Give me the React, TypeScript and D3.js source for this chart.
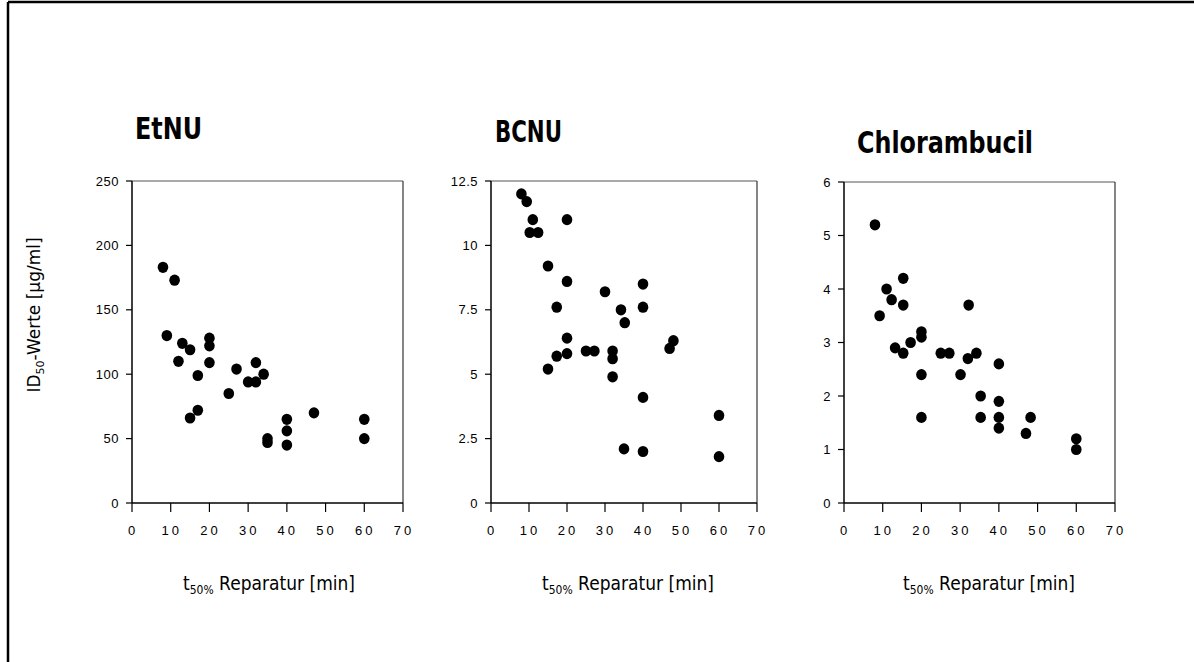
import React from "react";
import * as d3 from "d3";

// ---- data ----
const titles = ["EtNU", "BCNU", "Chlorambucil"];

const xTicks = [0, 10, 20, 30, 40, 50, 60, 70];

const etnuTicks = [0, 50, 100, 150, 200, 250];
const bcnuTicks = [0, 2.5, 5, 7.5, 10, 12.5];
const chloTicks = [0, 1, 2, 3, 4, 5, 6];

const etnuPoints: [number, number][] = [
  [8, 183], [11, 173], [9, 130], [13, 124], [15, 119], [12, 110],
  [20, 128], [20, 122], [20, 109], [17, 99], [15, 66], [17, 72],
  [25, 85], [27, 104], [30, 94], [32, 94], [32, 109], [34, 100],
  [35, 50], [35, 47], [40, 65], [40, 56], [40, 45], [47, 70],
  [60, 65], [60, 50],
];

const bcnuPoints: [number, number][] = [
  [8, 12], [9.4, 11.7], [11, 11], [10.2, 10.5], [12.4, 10.5], [20, 11],
  [15, 9.2], [20, 8.6], [17.3, 7.6], [20, 6.4], [20, 5.8], [17.3, 5.7],
  [15, 5.2], [25, 5.9], [27.2, 5.9], [30, 8.2], [32, 5.9], [32, 5.6],
  [32, 4.9], [34.2, 7.5], [35.2, 7.0], [35, 2.1], [40, 8.5], [40, 7.6],
  [40, 4.1], [40, 2.0], [47, 6.0], [48, 6.3], [60, 3.4], [60, 1.8],
];

const chloPoints: [number, number][] = [
  [8, 5.2], [9.2, 3.5], [11, 4.0], [12.3, 3.8], [15.3, 4.2], [15.3, 3.7],
  [13.2, 2.9], [15.3, 2.8], [17.2, 3.0], [20, 3.2], [20, 3.1], [20, 2.4],
  [20, 1.6], [25, 2.8], [27.2, 2.8], [30.1, 2.4], [32.2, 3.7], [32, 2.7],
  [34.2, 2.8], [35.3, 2.0], [35.3, 1.6], [40, 2.6], [40, 1.9], [40, 1.6],
  [40, 1.4], [47, 1.3], [48.2, 1.6], [60, 1.2], [60, 1.0],
];

const yMax = [250, 12.5, 6];
const yTickSets = [etnuTicks, bcnuTicks, chloTicks];
const pointSets = [etnuPoints, bcnuPoints, chloPoints];

// ---- layout ----
const W = 1194;
const H = 662;
const boxes = [
  { left: 132, right: 403, top: 181, bottom: 503, titleX: 135, titleY: 139, titleW: 67, labelX: 269 },
  { left: 491, right: 757, top: 181, bottom: 503, titleX: 495, titleY: 142, titleW: 67, labelX: 628 },
  { left: 844, right: 1115, top: 182, bottom: 503, titleX: 857, titleY: 153, titleW: 176, labelX: 989 },
];

function fmt(v: number) {
  return String(v);
}

function Panel({ i }: { i: number }) {
  const b = boxes[i];
  const x = d3.scaleLinear().domain([0, 70]).range([b.left, b.right]);
  const y = d3.scaleLinear().domain([0, yMax[i]]).range([b.bottom, b.top]);
  const pts = pointSets[i];
  return (
    <g>
      <text
        x={b.titleX}
        y={b.titleY}
        fontFamily="DejaVu Sans"
        fontWeight="bold"
        fontSize={30}
        textLength={b.titleW}
        lengthAdjust="spacingAndGlyphs"
        fill="#000"
      >
        {titles[i]}
      </text>
      {/* frame */}
      <line x1={b.left} x2={b.right} y1={b.top} y2={b.top} stroke="#555" strokeWidth={1} />
      <line x1={b.right} x2={b.right} y1={b.top} y2={b.bottom} stroke="#333" strokeWidth={1.2} />
      <line x1={b.left} x2={b.left} y1={b.top} y2={b.bottom} stroke="#000" strokeWidth={1.5} />
      <line x1={b.left} x2={b.right} y1={b.bottom} y2={b.bottom} stroke="#000" strokeWidth={1.5} />
      {/* y ticks */}
      {yTickSets[i].map((t) => (
        <g key={"y" + t}>
          <line x1={b.left - 6} x2={b.left} y1={y(t)} y2={y(t)} stroke="#000" strokeWidth={1.2} />
          <text
            x={b.left - 13}
            y={y(t)}
            dy="0.35em"
            textAnchor="end"
            fontFamily="Liberation Sans"
            fontSize={13}
            letterSpacing={0.5}
            fill="#000"
          >
            {fmt(t)}
          </text>
        </g>
      ))}
      {/* x ticks */}
      {xTicks.map((t) => (
        <g key={"x" + t}>
          <line x1={x(t)} x2={x(t)} y1={b.bottom} y2={b.bottom + 9} stroke="#000" strokeWidth={1.2} />
          <text
            x={x(t) + 1}
            y={b.bottom + 32}
            textAnchor="middle"
            fontFamily="Liberation Sans"
            fontSize={13}
            letterSpacing={3}
            fill="#000"
          >
            {fmt(t)}
          </text>
        </g>
      ))}
      {/* points */}
      {pts.map((p, k) => (
        <ellipse key={k} cx={x(p[0])} cy={y(p[1])} rx={5.3} ry={5.6} fill="#000" />
      ))}
      {/* x label */}
      <text
        x={b.labelX - 86}
        y={590}
        fontFamily="DejaVu Sans"
        fontSize={19}
        textLength={172}
        lengthAdjust="spacingAndGlyphs"
        fill="#000"
      >
        t<tspan fontSize={12} dy={4}>50%</tspan>
        <tspan dy={-4}> Reparatur [min]</tspan>
      </text>
    </g>
  );
}

export default function App() {
  return (
    <svg
      width={W}
      height={H}
      viewBox={`0 0 ${W} ${H}`}
      style={{ position: "absolute", left: 0, top: 0, background: "#fff" }}
    >
      <rect x={0} y={0} width={W} height={H} fill="#fff" />
      {/* scan frame */}
      <line x1={8} x2={W} y1={2} y2={2} stroke="#000" strokeWidth={2.5} />
      <line x1={8} x2={8} y1={2} y2={H} stroke="#000" strokeWidth={2.5} />
      {[0, 1, 2].map((i) => (
        <Panel key={i} i={i} />
      ))}
      <text
        transform="translate(40,315) rotate(-90)"
        textAnchor="middle"
        fontFamily="DejaVu Sans"
        fontSize={17}
        fill="#000"
      >
        ID<tspan fontSize={11} dy={4}>50</tspan>
        <tspan dy={-4}>-Werte [µg/ml]</tspan>
      </text>
    </svg>
  );
}
